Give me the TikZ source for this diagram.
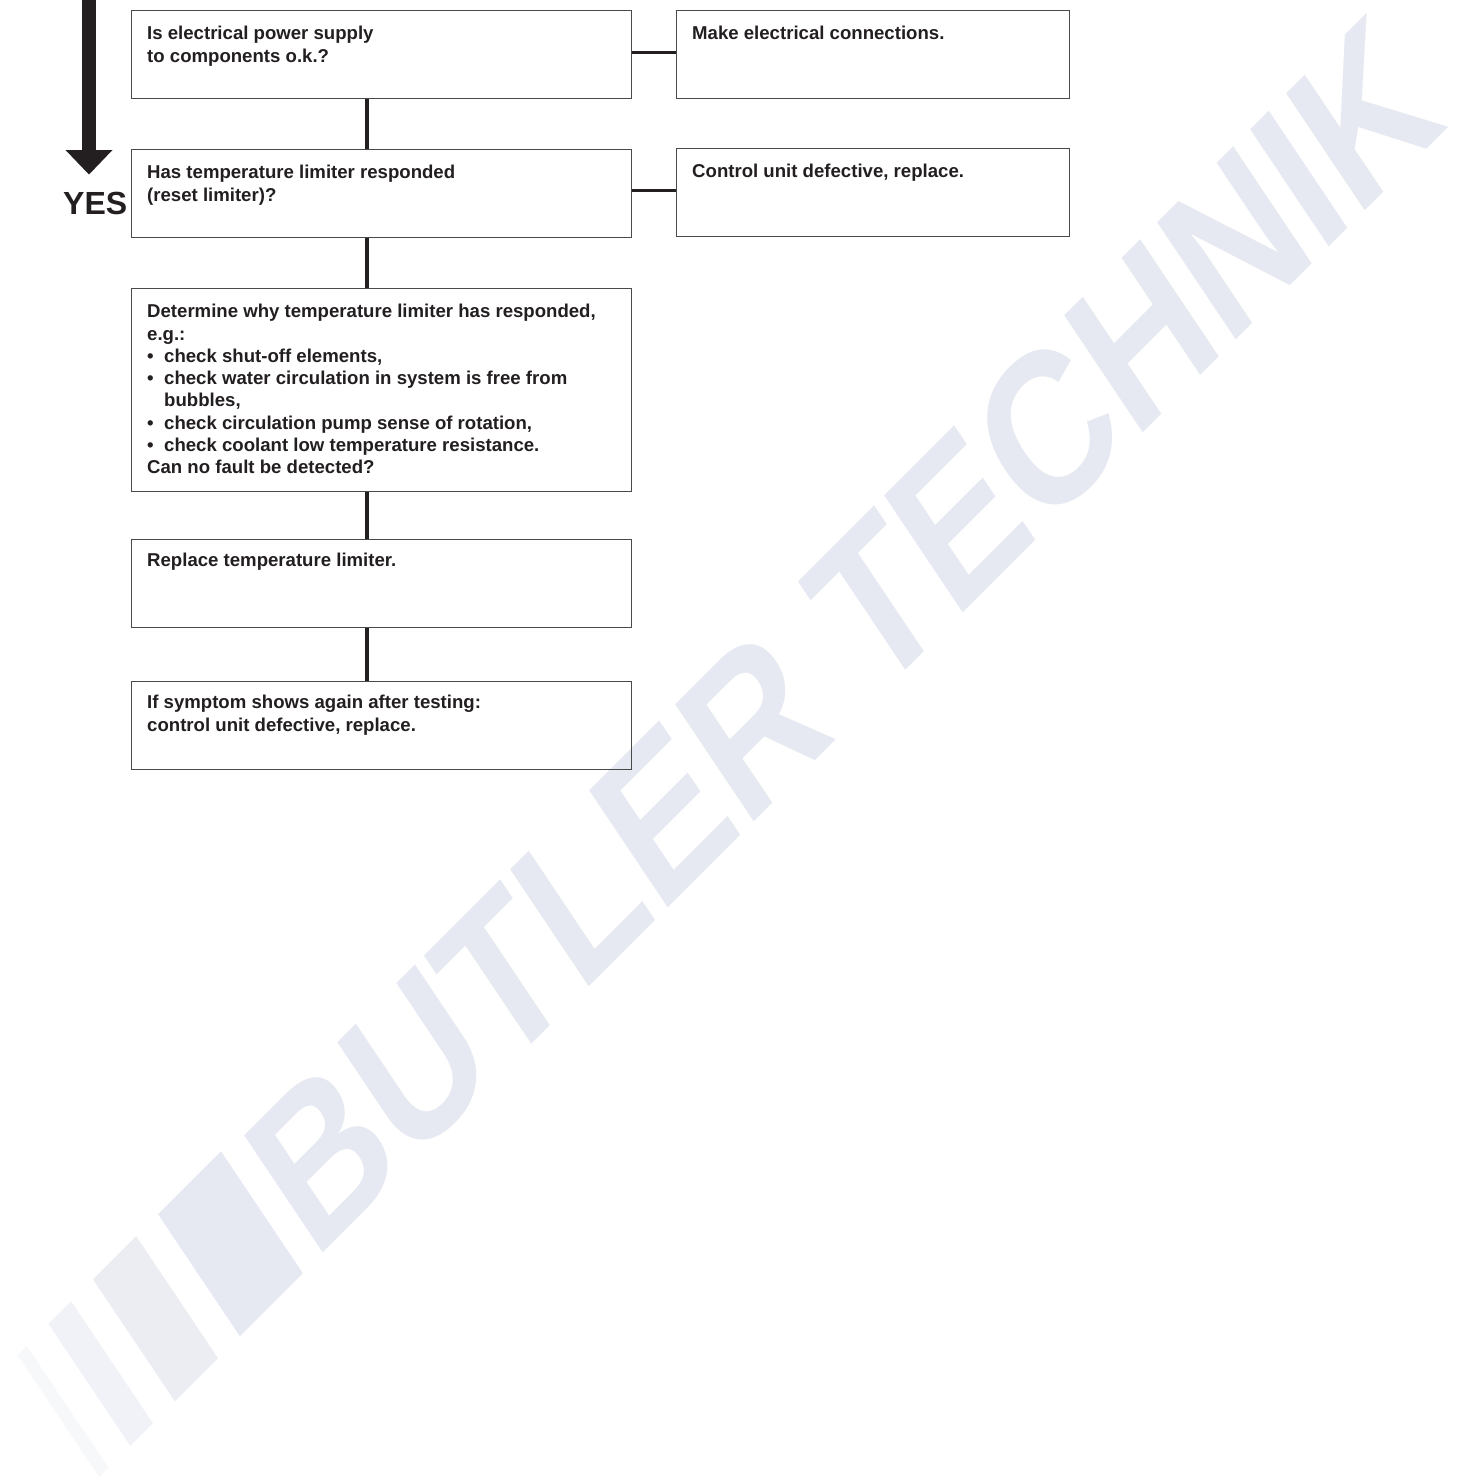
\documentclass[tikz,border=0pt]{standalone}
\usepackage{fontspec}
\setmainfont{Liberation Sans}
\usetikzlibrary{calc}
\definecolor{ink}{HTML}{231F20}
\definecolor{frame}{HTML}{4A4A4A}
\definecolor{wm}{HTML}{E6E9F1}
\begin{document}
\begin{tikzpicture}[x=1pt,y=-1pt,
  box/.style={draw=frame, line width=1.3pt, rectangle, inner sep=0pt, anchor=north west, minimum width=500pt, minimum height=88pt},
  rbox/.style={box, minimum width=393pt},
  txt/.style={anchor=north west, inner sep=0pt, align=left, text=ink, font=\fontsize{18.6}{22.3}\bfseries\selectfont},
  link/.style={draw=ink, line width=3.5pt},
  wmark/.style={fill=wm}]
\useasboundingbox (0,0) rectangle (1462,1483);
\fill[white] (0,0) rectangle (1462,1483);

% watermark text
\begin{scope}[cm={0.647,0.647,-0.571,0.851,(324,1252)}]
  \node[anchor=base west, inner sep=0pt, text=wm, font=\fontsize{200}{200}\bfseries\selectfont, transform shape] (wmtext) at (-14.6,0) {BUTLER TECHNIK};
\end{scope}
% watermark bars
\begin{scope}[cm={0.7071,0.7071,-0.5678,0.8464,(324,1252)}]
  \fill[wmark] (-119,0) rectangle (-30,-144);
  \fill[wmark, fill opacity=0.8] (-211,0) rectangle (-150,-144);
  \fill[wmark, fill opacity=0.55] (-274,0) rectangle (-242,-144);
  \fill[wmark, fill opacity=0.3] (-318,0) rectangle (-305,-144);
\end{scope}

% boxes
\node[box] (b1) at (131,10) {};
\node[rbox] (r1) at (676,10) {};
\node[box] (b2) at (131,149) {};
\node[rbox] (r2) at (676,148) {};
\node[box, minimum height=203pt] (b3) at (131,288) {};
\node[box] (b4) at (131,539) {};
\node[box] (b5) at (131,681) {};

% texts
\node[txt] (t1) at ($(b1.north west)+(16,14.5)$) {\rule{0pt}{15pt}Is electrical power supply\\to components o.k.?};
\node[txt] (tr1) at ($(r1.north west)+(16,14.5)$) {\rule{0pt}{15pt}Make electrical connections.};
\node[txt] (t2) at ($(b2.north west)+(16,14.5)$) {\rule{0pt}{15pt}Has temperature limiter responded\\(reset limiter)?};
\node[txt] (tr2) at ($(r2.north west)+(16,14.5)$) {\rule{0pt}{15pt}Control unit defective, replace.};
\node[txt] (t3) at ($(b3.north west)+(16,14.5)$) {\rule{0pt}{15pt}Determine why temperature limiter has responded,\\
e.g.:\\
\makebox[17pt][l]{\textbullet}check shut-off elements,\\
\makebox[17pt][l]{\textbullet}check water circulation in system is free from\\
\hspace*{17pt}bubbles,\\
\makebox[17pt][l]{\textbullet}check circulation pump sense of rotation,\\
\makebox[17pt][l]{\textbullet}check coolant low temperature resistance.\\
Can no fault be detected?};
\node[txt] (t4) at ($(b4.north west)+(16,12.5)$) {\rule{0pt}{15pt}Replace temperature limiter.};
\node[txt] (t5) at ($(b5.north west)+(16,12.5)$) {\rule{0pt}{15pt}If symptom shows again after testing:\\control unit defective, replace.};

% connectors
\coordinate (spine) at (367,0);
\draw[link] (b1.south -| spine) -- (b2.north -| spine);
\draw[link] (b2.south -| spine) -- (b3.north -| spine);
\draw[link] (b3.south -| spine) -- (b4.north -| spine);
\draw[link] (b4.south -| spine) -- (b5.north -| spine);
\draw[link] ([yshift=2pt]b1.east) coordinate (h1) -- (h1 -| r1.west);
\draw[link] ([yshift=3pt]b2.east) coordinate (h2) -- (h2 -| r2.west);

% YES arrow
\coordinate (arrtop) at (89,0);
\coordinate (arrbase) at (89,151);
\draw[ink, line width=14pt] (arrtop) -- (arrbase);
\fill[ink] ($(arrbase)+(-23.5,-1)$) -- ($(arrbase)+(23.5,-1)$) -- ($(arrbase)+(0,23.5)$) -- cycle;
\node[anchor=base west, inner sep=0pt, text=ink, font=\fontsize{32}{32}\bfseries\selectfont] (yes) at (63,214) {YES};
\end{tikzpicture}
\end{document}
